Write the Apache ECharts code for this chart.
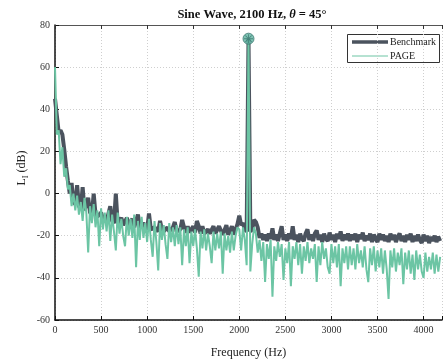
<!DOCTYPE html>
<html>
<head>
<meta charset="utf-8">
<script src="https://cdn.jsdelivr.net/npm/echarts@6/dist/echarts.min.js"></script>
<style>
  html, body { margin: 0; padding: 0; background: #fff; }
  #chart { width: 445px; height: 364px; }
</style>
</head>
<body>
<div id="chart"></div>
<script>
// spectra sampled every 20 Hz, starting at 0 Hz
const freqStepHz = 20;

const benchmarkDb = [
  45, 45, 29, 30, 28, 21, 13, 6, 0, 5,
  -4, -5, 4, -6, -7, 3, -8, -8, -2, -9,
  -10, 0, -10, -11, -11, -9, -12, -12, -13, -13,
  -6, -13, -14, 0, -14, -14, -11.5, -15, -15, -11.5,
  -15, -15, -12, -16, -16, -10, -16, -16, -14, -16,
  -17, -9.5, -17, -17, -16, -17, -18, -13, -17, -18,
  -17.5, -16, -18, -17.5, -16, -13.5, -18, -18.5, -17, -12.5,
  -16, -18.5, -15.5, -18.5, -19, -15.5, -18.5, -13, -15.5, -19,
  -15.5, -19, -19.5, -17, -19, -19.5, -15.5, -19, -19.5, -15.5,
  -16, -19.5, -19, -15, -19.5, -19, -15.5, -19.5, -17, -14.5,
  -10.5, -15, -14, -17, -18, 73.5, -18, -17, -12.5, -13.5,
  -16, -21, -19, -22, -19.5, -22.5, -19, -21.5, -16.5, -22,
  -19.5, -22.5, -19, -15.5, -22, -19.5, -22.5, -19, -21.5, -15.5,
  -22, -19.5, -23, -19, -21.5, -22.5, -19, -17, -22, -19.5,
  -22.5, -19, -17.5, -22, -19.5, -23, -19, -21.5, -22.5, -18.5,
  -22, -19.5, -23, -19, -21.5, -18, -22.5, -19.5, -22, -19,
  -22.5, -19.5, -22, -19, -23, -19.5, -21.5, -18.5, -22.5, -20,
  -22, -19, -23, -19.5, -21.5, -23, -19, -22, -19.5, -22.5,
  -20, -23, -19, -22, -19.5, -23, -20.5, -19, -22.5, -20,
  -23, -19.5, -22, -19, -23, -20, -22.5, -19.5, -22, -23.5,
  -19.5, -22.5, -20, -23.5, -20.5, -22.5, -20, -23, -20.5, -22.5
];

const pageDb = [
  60, 28, 30, 14, 22, 8, 12, 2, 4, -6,
  0, -8, -1, -10, -4, -13, -2, -9, -28, -6,
  -14, -5, -16, -8, -25, -7, -17, -9, -18, -8,
  -22.5, -10, -18, -27, -9, -19, -12, -20, -25, -11,
  -20, -12, -21, -10, -35, -13, -22, -11, -21, -14,
  -23, -12, -22, -30, -13, -23, -36.5, -14, -22, -15,
  -24, -31, -14, -23, -16, -25, -15, -24, -16, -34,
  -17, -25, -16, -33, -18, -25, -17, -26, -39.5, -18,
  -26, -17, -27, -19, -25, -33, -18, -27, -19, -26,
  -18, -38, -19, -27, -20, -28, -18, -27, -20, -16,
  -17, -27, -16, -22, -34, 73.5, -37, -24, -16, -19,
  -28, -22, -32, -23, -42, -24, -31, -22, -49, -25,
  -32, -23, -30, -24, -41, -26, -33, -23, -44, -25,
  -31, -23, -34, -24, -38, -25, -32, -23, -33, -26,
  -31, -24, -42, -25, -34, -23, -31, -26, -35, -38,
  -24, -33, -25, -35, -24, -44, -26, -33, -25, -36,
  -25, -34, -26, -36, -24, -33, -27, -35, -25, -36,
  -42, -26, -34, -25, -37, -27, -35, -26, -38, -27,
  -36, -50, -27, -35, -26, -37, -28, -34, -26, -43,
  -28, -36, -27, -38, -29, -41, -27, -36, -29, -37,
  -40, -28, -37, -30, -36, -28, -38, -29, -37, -30
];

const peakPoint = [2100, 73.5];
const xTicks = [0, 500, 1000, 1500, 2000, 2500, 3000, 3500, 4000];
const yTicks = [-60, -40, -20, 0, 20, 40, 60, 80];
const legendNames = ["Benchmark", "PAGE"];

const toPairs = (arr) => arr.map((v, i) => [i * freqStepHz, v]);

const serif = "Liberation Serif";
const benchColor = "#4b535e";
const pageColor = "#6cc5a4";
const gridLine = { color: "#cfcfcf", type: [1, 2], width: 1 };
const chart = echarts.init(document.getElementById("chart"));

chart.setOption({
  animation: false,
  backgroundColor: "#fff",
  grid: { left: 55, top: 25, right: -7, bottom: 37 },
  graphic: [
    {
      type: "text",
      x: 252,
      y: 15,
      style: {
        text: "{b|Sine Wave, 2100 Hz, }{i|θ}{b| = 45°}",
        align: "center",
        verticalAlign: "middle",
        rich: {
          b: { fontFamily: serif, fontSize: 12.5, fontWeight: "bold", fill: "#111" },
          i: { fontFamily: serif, fontSize: 12.5, fontWeight: "bold", fontStyle: "italic", fill: "#111" },
        },
      },
    },
    {
      type: "text",
      x: 22,
      y: 168,
      rotation: Math.PI / 2,
      style: {
        text: "{n|L}{s|I}{n| (dB)}",
        align: "center",
        verticalAlign: "middle",
        rich: {
          n: { fontFamily: serif, fontSize: 12, fill: "#222", lineHeight: 16, verticalAlign: "middle" },
          s: { fontFamily: serif, fontSize: 8, fill: "#222", lineHeight: 16, verticalAlign: "bottom" },
        },
      },
    },
    // legend box
    {
      type: "group",
      z: 100,
      children: [
        {
          type: "rect",
          shape: { x: 347.5, y: 34.5, width: 92, height: 28 },
          style: { fill: "#fff", stroke: "#333", lineWidth: 1 },
        },
        {
          type: "line",
          shape: { x1: 352, y1: 42, x2: 388, y2: 42 },
          style: { stroke: benchColor, lineWidth: 3.5 },
        },
        {
          type: "text",
          x: 390,
          y: 42,
          style: { text: legendNames[0], fontFamily: serif, fontSize: 10, fill: "#222", verticalAlign: "middle" },
        },
        {
          type: "line",
          shape: { x1: 352, y1: 56, x2: 388, y2: 56 },
          style: { stroke: pageColor, lineWidth: 1 },
        },
        {
          type: "text",
          x: 390,
          y: 56,
          style: { text: legendNames[1], fontFamily: serif, fontSize: 10, fill: "#222", verticalAlign: "middle" },
        },
      ],
    },
  ],
  xAxis: [
    {
      type: "value",
      min: 0,
      max: 4200,
      interval: 500,
      name: "Frequency (Hz)",
      nameLocation: "middle",
      nameGap: 27,
      nameTextStyle: { fontFamily: serif, fontSize: 12, color: "#222" },
      axisLine: { onZero: false, lineStyle: { color: "#111", width: 1.5 } },
      axisTick: { inside: true, length: 4, lineStyle: { color: "#111" } },
      axisLabel: {
        fontFamily: serif,
        fontSize: 10,
        color: "#333",
        margin: 5,
        formatter: (v) => (xTicks.includes(v) ? String(v) : ""),
      },
      splitLine: { show: true, lineStyle: gridLine },
    },
    {
      type: "value",
      position: "top",
      min: 0,
      max: 4200,
      interval: 500,
      axisLine: { onZero: false, lineStyle: { color: "#555", width: 1 } },
      axisTick: { inside: true, length: 4, lineStyle: { color: "#333" } },
      axisLabel: { show: false },
      splitLine: { show: false },
    },
  ],
  yAxis: {
    type: "value",
    min: -60,
    max: 80,
    interval: 20,
    axisLine: { show: true, onZero: false, lineStyle: { color: "#111", width: 1.5 } },
    axisTick: { show: true, inside: true, length: 4, lineStyle: { color: "#111" } },
    axisLabel: {
      fontFamily: serif,
      fontSize: 10,
      color: "#333",
      margin: 5,
      formatter: (v) => (yTicks.includes(v) ? String(v) : ""),
    },
    splitLine: { show: true, lineStyle: gridLine },
  },
  series: [
    {
      name: legendNames[0],
      type: "line",
      data: toPairs(benchmarkDb),
      symbol: "none",
      color: benchColor,
      lineStyle: { color: benchColor, width: 4 },
      z: 2,
    },
    {
      name: legendNames[1],
      type: "line",
      data: toPairs(pageDb),
      symbol: "none",
      color: pageColor,
      lineStyle: { color: pageColor, width: 2 },
      z: 3,
    },
    {
      name: "peak",
      type: "scatter",
      data: [peakPoint],
      symbol: "circle",
      symbolSize: 11,
      itemStyle: { color: "#5db4a0", borderColor: "#3d7770", borderWidth: 1 },
      z: 4,
    },
    {
      name: "peak-star",
      type: "scatter",
      data: [peakPoint],
      symbol:
        "path://M9,0h2v20h-2z M0,9h20v2h-20z M2.3,3.7L3.7,2.3L17.7,16.3L16.3,17.7z M16.3,2.3L17.7,3.7L3.7,17.7L2.3,16.3z",
      symbolSize: 9,
      itemStyle: { color: "#3d7770" },
      z: 5,
    },
  ],
});
</script>
</body>
</html>
